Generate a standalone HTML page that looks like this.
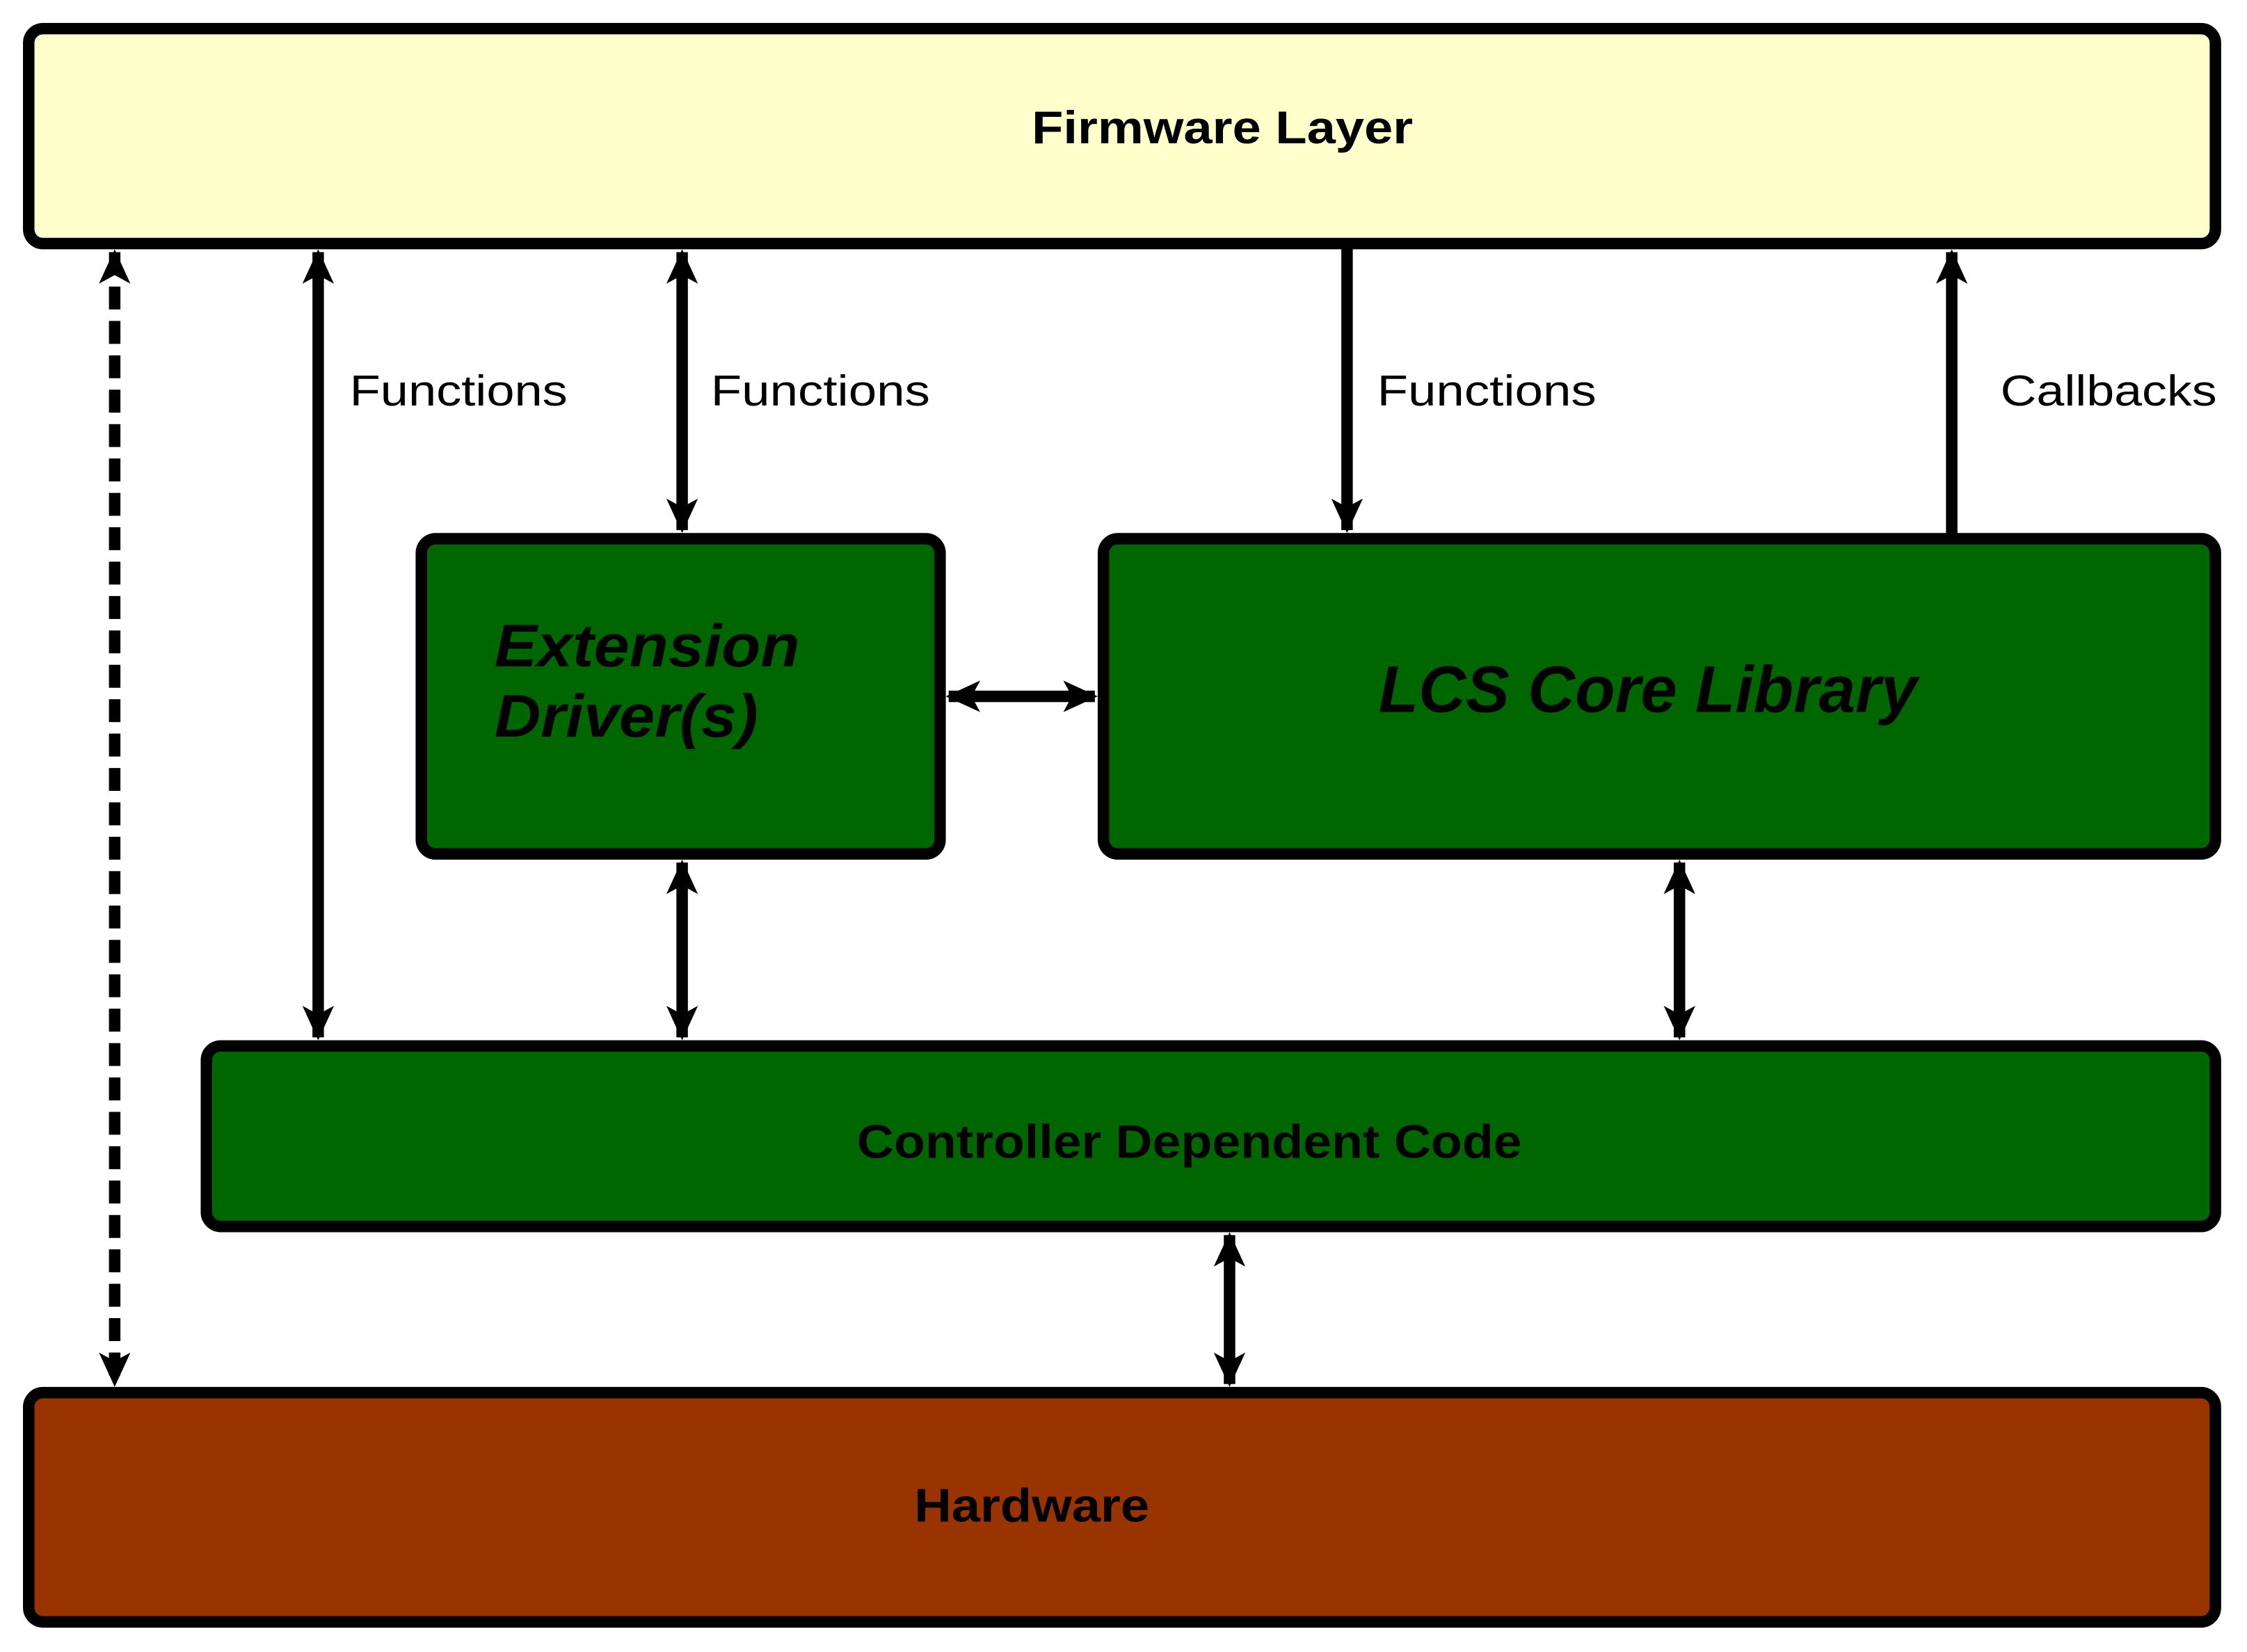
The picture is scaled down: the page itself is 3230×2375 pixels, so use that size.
<!DOCTYPE html>
<html><head><meta charset="utf-8"><style>
html,body{margin:0;padding:0;background:#fff;}
svg{display:block;}
text{font-family:"Liberation Sans",Arial,sans-serif;}
</style></head><body>
<svg width="3230" height="2375" viewBox="0 0 1568 1153" xmlns="http://www.w3.org/2000/svg">
<defs>
<marker id="ah" viewBox="0 0 24 24" refX="22" refY="12" markerWidth="24" markerHeight="24" markerUnits="userSpaceOnUse" orient="auto-start-reverse">
<path d="M0,1 L24,12 L0,23 L6,12 Z" fill="#000"/>
</marker>
</defs>
<rect width="1568" height="1153" fill="#fff"/>
<g stroke="#000" stroke-width="8">
<rect x="20" y="20" width="1526" height="150" rx="10" fill="#ffffcc"/>
<rect x="294" y="376" width="362" height="220" rx="10" fill="#006600"/>
<rect x="770" y="376" width="776" height="220" rx="10" fill="#006600"/>
<rect x="144" y="730" width="1402" height="126" rx="10" fill="#006600"/>
<rect x="20" y="972" width="1526" height="160" rx="10" fill="#993300"/>
</g>
<g stroke="#000" stroke-width="8" fill="none">
<line x1="80" y1="176" x2="80" y2="966" stroke-dasharray="16,8" marker-start="url(#ah)" marker-end="url(#ah)"/>
<line x1="222" y1="176" x2="222" y2="724" marker-start="url(#ah)" marker-end="url(#ah)"/>
<line x1="476" y1="176" x2="476" y2="370" marker-start="url(#ah)" marker-end="url(#ah)"/>
<line x1="940" y1="172" x2="940" y2="370" marker-end="url(#ah)"/>
<line x1="1362" y1="374" x2="1362" y2="176" marker-end="url(#ah)"/>
<line x1="662" y1="486" x2="764" y2="486" marker-start="url(#ah)" marker-end="url(#ah)"/>
<line x1="476" y1="602" x2="476" y2="724" marker-start="url(#ah)" marker-end="url(#ah)"/>
<line x1="1172" y1="602" x2="1172" y2="724" marker-start="url(#ah)" marker-end="url(#ah)"/>
<line x1="858" y1="862" x2="858" y2="966" marker-start="url(#ah)" marker-end="url(#ah)"/>
</g>
<g font-size="30" fill="#000">
<text x="244" y="283" textLength="152" lengthAdjust="spacingAndGlyphs">Functions</text>
<text x="496" y="283" textLength="153" lengthAdjust="spacingAndGlyphs">Functions</text>
<text x="961" y="283" textLength="153" lengthAdjust="spacingAndGlyphs">Functions</text>
<text x="1396" y="283" textLength="151" lengthAdjust="spacingAndGlyphs">Callbacks</text>
</g>
<g font-weight="bold" fill="#000">
<text x="720" y="100" font-size="32" textLength="266" lengthAdjust="spacingAndGlyphs">Firmware Layer</text>
<text x="345" y="465" font-size="42" font-style="italic" textLength="213" lengthAdjust="spacingAndGlyphs">Extension</text>
<text x="345" y="514" font-size="42" font-style="italic" textLength="184" lengthAdjust="spacingAndGlyphs">Driver(s)</text>
<text x="962" y="497" font-size="46" font-style="italic" textLength="376" lengthAdjust="spacingAndGlyphs">LCS Core Library</text>
<text x="598" y="808" font-size="33" textLength="464" lengthAdjust="spacingAndGlyphs">Controller Dependent Code</text>
<text x="638" y="1062" font-size="33" textLength="164" lengthAdjust="spacingAndGlyphs">Hardware</text>
</g>
</svg>
</body></html>
